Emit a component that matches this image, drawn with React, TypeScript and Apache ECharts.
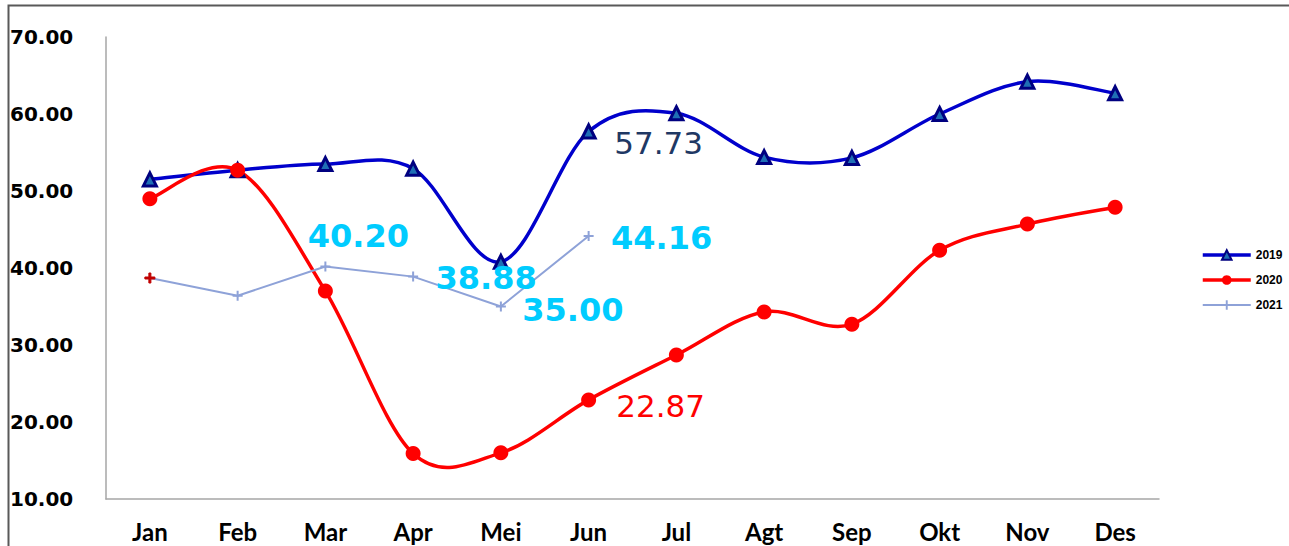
import React, { useEffect, useRef } from "react";
import * as echarts from "echarts";

const months = ["Jan", "Feb", "Mar", "Apr", "Mei", "Jun", "Jul", "Agt", "Sep", "Okt", "Nov", "Des"];
const s2019 = [51.5, 52.7, 53.5, 52.9, 40.8, 57.73, 60.1, 54.4, 54.3, 60.0, 64.2, 62.7];
const s2020 = [49.0, 52.7, 37.0, 15.9, 16.0, 22.87, 28.7, 34.3, 32.7, 42.3, 45.7, 47.9];
const s2021 = [38.7, 36.4, 40.2, 38.88, 35.0, 44.16];
const yTicks = { min: 10, max: 70, interval: 10 };

const PLUS = "path://M4,0h2v4h4v2h-4v4h-2v-4h-4v-2h4z";

function curveRenderer(values: number[], color: string, width: number) {
  return (params: any, api: any) => {
    if (params.dataIndex !== 0) return null;
    const pts = values.map((v, i) => api.coord([i, v]));
    let d = `M${pts[0][0]},${pts[0][1]}`;
    for (let i = 0; i < pts.length - 1; i++) {
      const p0 = pts[Math.max(0, i - 1)];
      const p1 = pts[i];
      const p2 = pts[i + 1];
      const p3 = pts[Math.min(pts.length - 1, i + 2)];
      const c1x = p1[0] + (p2[0] - p0[0]) / 6;
      const c1y = p1[1] + (p2[1] - p0[1]) / 6;
      const c2x = p2[0] - (p3[0] - p1[0]) / 6;
      const c2y = p2[1] - (p3[1] - p1[1]) / 6;
      d += ` C${c1x},${c1y} ${c2x},${c2y} ${p2[0]},${p2[1]}`;
    }
    return {
      type: "path",
      shape: { pathData: d },
      style: { stroke: color, lineWidth: width, fill: "none" },
      silent: true,
    };
  };
}

export default function App() {
  const ref = useRef<HTMLDivElement>(null);
  useEffect(() => {
    if (!ref.current) return;
    const chart = echarts.init(ref.current, null, { renderer: "svg" });
    const fmt = (p: any) => Number(p.value).toFixed(2);
    const cyanLabel = (offset: number[]) => ({
      show: true,
      position: "inside",
      offset,
      color: "#00CCFF",
      fontFamily: "DejaVu Sans",
      fontWeight: "bold",
      fontSize: 32,
      formatter: fmt,
    });
    const d2021 = s2021.map((v, i) => {
      const item: any = { value: v };
      if (i === 0) item.itemStyle = { color: "#C00000", borderColor: "#C00000" };
      if (i === 2) item.label = cyanLabel([33, -30]);
      if (i === 3) item.label = cyanLabel([73, 1]);
      if (i === 4) item.label = cyanLabel([72, 3]);
      if (i === 5) item.label = cyanLabel([73, 2]);
      return item;
    });
    const d2019 = s2019.map((v, i) => {
      const item: any = { value: v };
      if (i === 5)
        item.label = {
          show: true,
          position: "inside",
          offset: [70, 12],
          color: "#1F3864",
          fontFamily: "DejaVu Sans",
          fontSize: 31,
          formatter: fmt,
        };
      return item;
    });
    const d2020 = s2020.map((v, i) => {
      const item: any = { value: v };
      if (i === 5)
        item.label = {
          show: true,
          position: "inside",
          offset: [72, 6],
          color: "#FF0000",
          fontFamily: "DejaVu Sans",
          fontSize: 31,
          formatter: fmt,
        };
      return item;
    });
    chart.setOption({
      animation: false,
      backgroundColor: "#ffffff",
      grid: { left: 106, right: 130, top: 37, bottom: 47, containLabel: false },
      legend: {
        orient: "vertical",
        left: 1196,
        top: 244,
        itemWidth: 48,
        itemHeight: 12,
        itemGap: 13,
        textStyle: { fontFamily: "Liberation Sans", fontWeight: "bold", fontSize: 12, color: "#000" },
        data: [
          { name: "2019", lineStyle: { opacity: 1, color: "#0000CC", width: 3.5 } },
          { name: "2020", lineStyle: { opacity: 1, color: "#FF0000", width: 3.5 } },
          { name: "2021", lineStyle: { opacity: 1, color: "#8EA2D8", width: 2 } },
        ],
      },
      xAxis: {
        type: "category",
        data: months,
        boundaryGap: true,
        axisLine: { lineStyle: { color: "#A6A6A6", width: 1.5 } },
        axisTick: { show: false },
        axisLabel: { margin: 20, fontFamily: "Lato", fontWeight: "bold", fontSize: 24, color: "#000" },
        splitLine: { show: false },
      },
      yAxis: {
        type: "value",
        min: yTicks.min,
        max: yTicks.max,
        interval: yTicks.interval,
        axisLine: { show: true, lineStyle: { color: "#A6A6A6", width: 1.5 } },
        axisTick: { show: false },
        splitLine: { show: false },
        axisLabel: {
          align: "left",
          margin: 96,
          fontFamily: "DejaVu Sans",
          fontWeight: "bold",
          fontSize: 20,
          color: "#000",
          formatter: (v: number) => v.toFixed(2),
        },
      },
      graphic: [
        {
          type: "polyline",
          silent: true,
          shape: { points: [[8.5, 560], [8.5, 5.5], [1300, 5.5]] },
          style: { stroke: "#595959", lineWidth: 2, fill: null },
        },
      ],
      series: [
        {
          name: "c2019",
          type: "custom",
          renderItem: curveRenderer(s2019, "#0000CC", 3.5),
          data: s2019.map((v, i) => [i, v]),
          z: 1,
        },
        {
          name: "c2020",
          type: "custom",
          renderItem: curveRenderer(s2020, "#FF0000", 3.5),
          data: s2020.map((v, i) => [i, v]),
          z: 1,
        },
        {
          name: "2019",
          type: "line",
          data: d2019,
          symbol: "triangle",
          symbolSize: 13,
          lineStyle: { color: "#0000CC", width: 3.5, opacity: 0 },
          itemStyle: { color: "#1F6FB5", borderColor: "#000080", borderWidth: 3 },
          z: 2,
        },
        {
          name: "2020",
          type: "line",
          data: d2020,
          symbol: "circle",
          symbolSize: 15,
          lineStyle: { color: "#FF0000", width: 3.5, opacity: 0 },
          itemStyle: { color: "#FF0000" },
          z: 3,
        },
        {
          name: "2021",
          type: "line",
          data: d2021,
          smooth: false,
          symbol: PLUS,
          symbolSize: 10,
          lineStyle: { color: "#8EA2D8", width: 2 },
          itemStyle: { color: "#8EA2D8" },
          z: 4,
        },
      ],
    });
    return () => chart.dispose();
  }, []);
  return (
    <div
      ref={ref}
      style={{ position: "absolute", left: 0, top: 0, width: 1289, height: 546 }}
    />
  );
}
